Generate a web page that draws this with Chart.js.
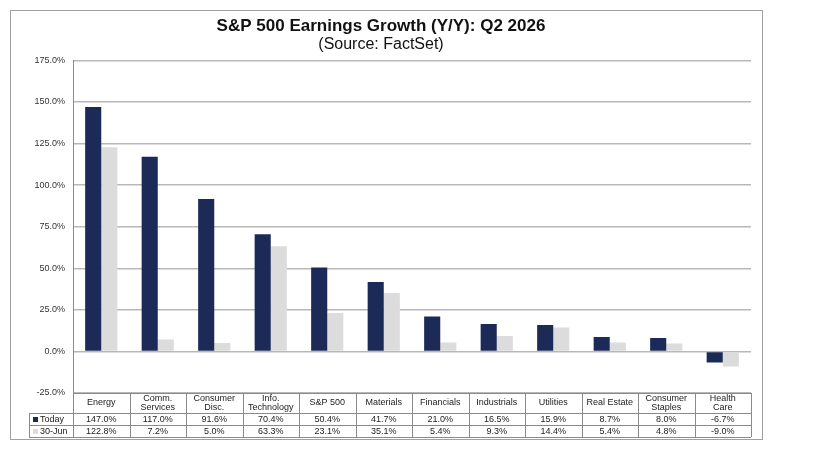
<!DOCTYPE html>
<html>
<head>
<meta charset="utf-8">
<script src="https://cdn.jsdelivr.net/npm/chart.js@4"></script>
<style>
  html, body { margin: 0; padding: 0; background: #fff; }
  #frame {
    position: absolute; left: 10px; top: 10px;
    width: 751px; height: 428px;
    border: 1px solid #a0a0a0;
  }
  #wrap { position: absolute; left: 0; top: 0; width: 751px; height: 428px; }
</style>
</head>
<body>
<div id="frame"><div id="wrap"><canvas id="earnings-chart"></canvas></div></div>
<script>
var categories = [
  'Energy', ['Comm.', 'Services'], ['Consumer', 'Disc.'], ['Info.', 'Technology'], 'S&P 500',
  'Materials', 'Financials', 'Industrials', 'Utilities', 'Real Estate', ['Consumer', 'Staples'], ['Health', 'Care']
];
var todayValues = [147.0, 117.0, 91.6, 70.4, 50.4, 41.7, 21.0, 16.5, 15.9, 8.7, 8.0, -6.7];
var juneValues = [122.8, 7.2, 5.0, 63.3, 23.1, 35.1, 5.4, 9.3, 14.4, 5.4, 4.8, -9.0];
var seriesNames = ['Today', '30-Jun'];
var seriesColors = ['#1c2a58', '#dcdcdc'];

var fontFamily = '"Liberation Sans", Arial, sans-serif';
var lineColor = '#8a8a8a';

// draws the data table under the plot, using the x scale for column positions
var dataTable = {
  id: 'dataTable',
  afterDraw: function(chart) {
    var ctx = chart.ctx;
    var area = chart.chartArea;
    var x = chart.scales.x;
    var n = categories.length;
    var step = (area.right - area.left) / n;
    var top = area.bottom;
    var r1 = top + 20, r2 = r1 + 12, r3 = r2 + 12;
    var legendLeft = 18;

    ctx.save();
    ctx.strokeStyle = lineColor;
    ctx.lineWidth = 1;
    ctx.beginPath();
    // horizontal lines
    ctx.moveTo(area.left, top + 0.5); ctx.lineTo(area.right, top + 0.5);
    ctx.moveTo(legendLeft, r1 + 0.5); ctx.lineTo(area.right, r1 + 0.5);
    ctx.moveTo(legendLeft, r2 + 0.5); ctx.lineTo(area.right, r2 + 0.5);
    ctx.moveTo(legendLeft, r3 + 0.5); ctx.lineTo(area.right, r3 + 0.5);
    // vertical lines
    ctx.moveTo(legendLeft + 0.5, r1); ctx.lineTo(legendLeft + 0.5, r3);
    for (var i = 0; i <= n; i++) {
      var vx = Math.round(area.left + i * step) + 0.5;
      ctx.moveTo(vx, top); ctx.lineTo(vx, r3);
    }
    ctx.stroke();

    ctx.fillStyle = '#222';
    ctx.textAlign = 'center';
    ctx.textBaseline = 'middle';
    ctx.font = '9px ' + fontFamily;
    categories.forEach(function(label, i) {
      var cx = x.getPixelForValue(i);
      if (Array.isArray(label)) {
        ctx.fillText(label[0], cx, top + 6);
        ctx.fillText(label[1], cx, top + 15);
      } else {
        ctx.fillText(label, cx, top + 10);
      }
      ctx.fillText(todayValues[i].toFixed(1) + '%', cx, r1 + 6.5);
      ctx.fillText(juneValues[i].toFixed(1) + '%', cx, r2 + 6.5);
    });

    // legend cells
    ctx.textAlign = 'left';
    [r1, r2].forEach(function(ry, s) {
      ctx.fillStyle = seriesColors[s];
      ctx.fillRect(legendLeft + 4, ry + 4, 5, 5);
      ctx.fillStyle = '#222';
      ctx.fillText(seriesNames[s], legendLeft + 11, ry + 6.5);
    });
    ctx.restore();
  }
};

new Chart(document.getElementById('earnings-chart'), {
  type: 'bar',
  data: {
    labels: categories,
    datasets: [
      {label: seriesNames[0], data: todayValues, backgroundColor: seriesColors[0]},
      {label: seriesNames[1], data: juneValues, backgroundColor: seriesColors[1]}
    ]
  },
  options: {
    responsive: true,
    maintainAspectRatio: false,
    animation: false,
    datasets: {
      bar: {categoryPercentage: 0.57, barPercentage: 1.0}
    },
    layout: {padding: {left: 0, right: 11, top: 0, bottom: 46}},
    plugins: {
      legend: {display: false},
      tooltip: {enabled: false},
      title: {
        display: true,
        text: 'S&P 500 Earnings Growth (Y/Y): Q2 2026',
        color: '#111',
        font: {family: fontFamily, size: 17, weight: 'bold', lineHeight: 1.2},
        padding: {top: 5, bottom: 0}
      },
      subtitle: {
        display: true,
        text: '(Source: FactSet)',
        color: '#111',
        font: {family: fontFamily, size: 16, lineHeight: 1.0},
        padding: {top: 0, bottom: 8}
      }
    },
    scales: {
      x: {
        display: false,
        offset: true
      },
      y: {
        min: -25,
        max: 175,
        afterFit: function(scale) { scale.width = 62; },
        ticks: {
          stepSize: 25,
          padding: 8,
          color: '#333',
          font: {family: fontFamily, size: 9},
          callback: function(v) { return v.toFixed(1) + '%'; }
        },
        grid: {color: '#b8b8b8', drawTicks: false, lineWidth: 1.5},
        border: {display: true, color: lineColor}
      }
    }
  },
  plugins: [dataTable]
});
</script>
</body>
</html>
